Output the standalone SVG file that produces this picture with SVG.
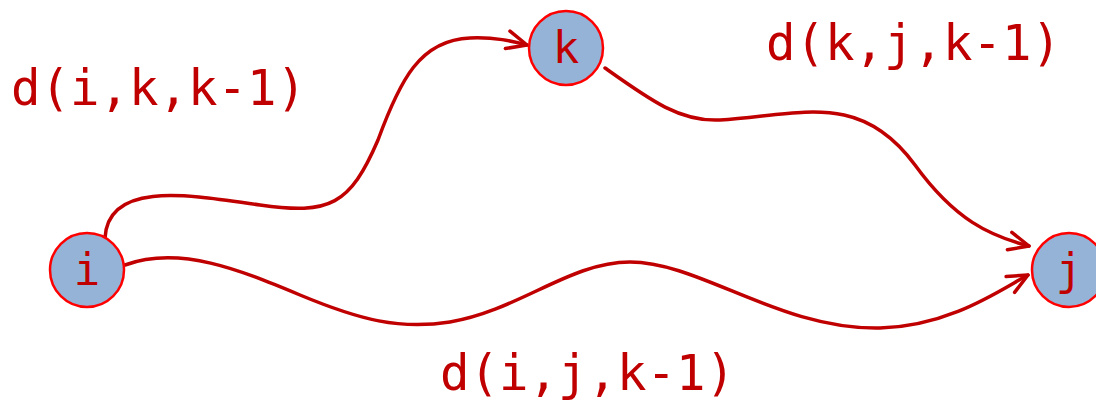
<svg xmlns="http://www.w3.org/2000/svg" width="1096" height="401" viewBox="0 0 1096 401">
<style>
.edge{fill:none;stroke:#C00000;stroke-width:3.5;stroke-linecap:round}
.node{fill:#95B3D7;stroke:#FF0000;stroke-width:2.5}
.nl{font-family:"DejaVu Sans Mono","Liberation Mono",monospace;font-size:44px;fill:#C00000;text-anchor:middle}
.lbl{font-family:"DejaVu Sans Mono","Liberation Mono",monospace;font-size:49px;fill:#C00000}
</style>
<defs>
<marker id="arr" markerUnits="userSpaceOnUse" markerWidth="30" markerHeight="30" refX="22" refY="11" orient="auto" viewBox="0 0 30 22">
<path d="M2,2 L22,11 L2,20" fill="none" stroke="#C00000" stroke-width="3.5" stroke-linecap="round" stroke-linejoin="round"/>
</marker>
</defs>
<g id="connectors">
<path class="edge" marker-end="url(#arr)" d="M105,238 C108,180 190,195 260,205 C330,215 350,205 378,140 C400,80 420,40 470,38 C495,37 512,41 527,45"/>
<path class="edge" marker-end="url(#arr)" d="M605,68 C650,100 680,122 720,120 C800,115 860,90 915,165 C955,220 990,236 1029,246"/>
<path class="edge" marker-end="url(#arr)" d="M125,265 C180,245 240,270 300,295 C360,320 400,330 450,322 C520,310 570,262 630,262 C700,262 780,330 880,328 C950,326 1000,290 1028,275"/>
</g>
<g id="node-i"><circle class="node" cx="87" cy="270" r="37"/><text class="nl" x="87" y="285">i</text></g>
<g id="node-k"><circle class="node" cx="566" cy="48" r="37"/><text class="nl" x="566" y="63">k</text></g>
<g id="node-j"><circle class="node" cx="1069" cy="270" r="37"/><text class="nl" x="1069" y="285">j</text></g>
<g id="labels">
<text class="lbl" x="11" y="105">d(i,k,k-1)</text>
<text class="lbl" x="766" y="60">d(k,j,k-1)</text>
<text class="lbl" x="440" y="390">d(i,j,k-1)</text>
</g>
</svg>
